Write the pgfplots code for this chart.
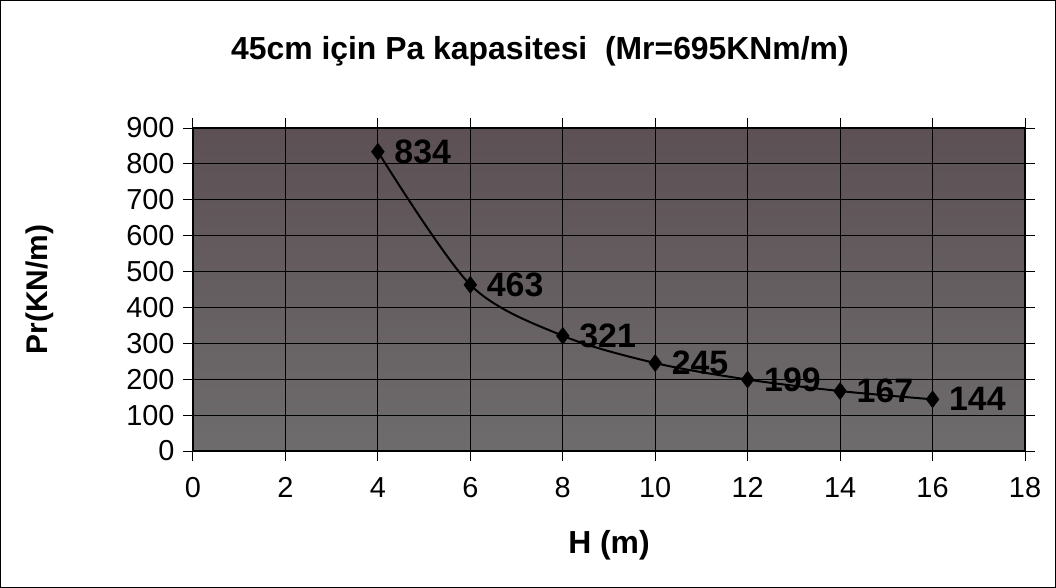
\documentclass[border=0pt]{standalone}
\usepackage{fontspec}
\setmainfont{Liberation Sans}
\usepackage{pgfplots}
\pgfplotsset{compat=1.18}
\definecolor{bgtop}{RGB}{92,80,84}
\definecolor{bgbot}{RGB}{110,108,109}
\pgfplotstableread{
x y label
4 834 834
6 463 463
8 321 321
10 245 245
12 199 199
14 167 167
16 144 144
}\datatab
\begin{document}
\begin{tikzpicture}
\begin{axis}[
  at={(0,0)}, anchor=south west,
  scale only axis, width=832bp, height=323bp,
  xmin=0, xmax=18, ymin=0, ymax=900,
  xtick={0,2,...,18}, ytick={0,100,...,900},
  axis background/.style={top color=bgtop, bottom color=bgbot},
  grid=major, major grid style={black, line width=0.8pt},
  axis line style={black, line width=2pt},
  tick align=outside, major tick length=10bp,
  tick style={black, line width=1pt},
  tick label style={font=\fontsize{29}{29}\selectfont},
  xticklabel style={yshift=-13bp},
  yticklabel style={xshift=-5bp},
  /pgf/number format/assume math mode=true,
  title={45cm için Pa kapasitesi~~(Mr=695KNm/m)},
  title style={font=\bfseries\fontsize{32}{32}\selectfont, at={(axis description cs:0.417,1.22)}, anchor=center},
  xlabel={H (m)}, ylabel={Pr(KN/m)},
  xlabel style={font=\bfseries\fontsize{32}{32}\selectfont, at={(axis description cs:0.5,-0.291)}, anchor=center},
  ylabel style={font=\bfseries\fontsize{30}{30}\selectfont, at={(axis description cs:-0.184,0.5)}, anchor=center},
]
\addplot[black, line width=2pt, smooth, mark=diamond*, mark size=8.5bp,
  mark options={solid, fill=black, line width=0.5pt},
  nodes near coords, point meta=explicit symbolic,
  every node near coord/.style={anchor=west, xshift=13bp, text=black, font=\bfseries\fontsize{34}{34}\selectfont}]
  table[x=x, y=y, meta=label] {\datatab};
\end{axis}
\draw[black, line width=1bp] (-192.5bp,-136.5bp) rectangle (862.5bp,450.5bp);
\end{tikzpicture}
\end{document}
